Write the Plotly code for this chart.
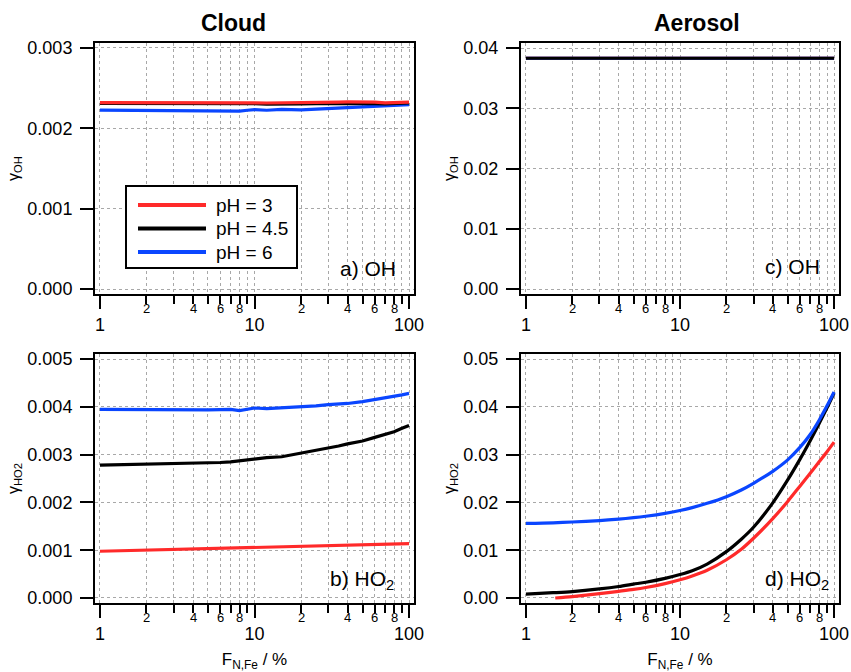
import math
import plotly.graph_objects as go

# ---------------- data ----------------
X_CLOUD = [1, 1.5, 2, 3, 4, 5, 6, 7, 8, 9, 10, 12, 15, 20, 25, 30, 35, 40, 50, 60, 70, 80, 90, 100]

# a) cloud, OH uptake
oh_cloud_ph3 = [0.002320, 0.002320, 0.002320, 0.002318, 0.002318, 0.002318, 0.002320, 0.002325, 0.002322, 0.002322,
                0.002318, 0.002315, 0.002316, 0.002318, 0.002316, 0.002318, 0.002326, 0.002328, 0.002328, 0.002327,
                0.002318, 0.002320, 0.002318, 0.002326]
oh_cloud_ph45 = [0.002310, 0.002310, 0.002310, 0.002310, 0.002310, 0.002310, 0.002312, 0.002312, 0.002308, 0.002310,
                 0.002308, 0.002302, 0.002300, 0.002305, 0.002308, 0.002310, 0.002312, 0.002312, 0.002310, 0.002308,
                 0.002305, 0.002310, 0.002312, 0.002315]
oh_cloud_ph6 = [0.002226, 0.002224, 0.002222, 0.002222, 0.002220, 0.002220, 0.002225, 0.002222, 0.002215, 0.002225,
                0.002232, 0.002225, 0.002235, 0.002230, 0.002240, 0.002246, 0.002250, 0.002256, 0.002262, 0.002272,
                0.002278, 0.002286, 0.002290, 0.002296]

# b) cloud, HO2 uptake
ho2_cloud_ph3 = [0.000978, 0.000992, 0.001003, 0.001018, 0.001028, 0.001036, 0.001045, 0.001052, 0.001058, 0.001063,
                 0.001068, 0.001076, 0.001085, 0.001096, 0.001104, 0.001110, 0.001115, 0.001120, 0.001126, 0.001130,
                 0.001132, 0.001134, 0.001135, 0.001136]
ho2_cloud_ph45 = [0.002780, 0.002790, 0.002798, 0.002808, 0.002815, 0.002825, 0.002835, 0.002848, 0.002872, 0.002885,
                  0.002910, 0.002935, 0.002955, 0.003030, 0.003085, 0.003130, 0.003180, 0.003225, 0.003285, 0.003360,
                  0.003420, 0.003480, 0.003550, 0.003610]
ho2_cloud_ph6 = [0.003947, 0.003940, 0.003935, 0.003932, 0.003932, 0.003935, 0.003942, 0.003948, 0.003920, 0.003955,
                 0.003975, 0.003960, 0.003975, 0.004010, 0.004020, 0.004045, 0.004055, 0.004070, 0.004110, 0.004150,
                 0.004185, 0.004220, 0.004250, 0.004280]

X_AEROSOL = [1, 1.5, 2, 3, 4, 5, 6, 8, 10, 12, 15, 20, 25, 30, 40, 50, 60, 70, 80, 90, 100]
X_AEROSOL_PH3 = [1.55, 2, 3, 4, 5, 6, 8, 10, 12, 15, 20, 25, 30, 40, 50, 60, 70, 80, 90, 100]

# c) aerosol, OH uptake
oh_aer_ph3 = [0.0383] * len(X_AEROSOL)
oh_aer_ph45 = [0.0383] * len(X_AEROSOL)
oh_aer_ph6 = [0.0383] * len(X_AEROSOL)

# d) aerosol, HO2 uptake
ho2_aer_ph3 = [0.0000, 0.0003, 0.0009, 0.0014, 0.0018, 0.0022, 0.0030, 0.0038, 0.0046, 0.0058, 0.0080,
               0.0102, 0.0125, 0.0166, 0.0202, 0.0234, 0.0261, 0.0285, 0.0306, 0.0326]
ho2_aer_ph45 = [0.0008, 0.0011, 0.00135, 0.0019, 0.0024, 0.0029, 0.0033, 0.0041, 0.0049, 0.0057, 0.0071, 0.0097,
                0.0123, 0.0148, 0.0199, 0.0247, 0.0290, 0.0329, 0.0365, 0.0398, 0.0429]
ho2_aer_ph6 = [0.0156, 0.01573, 0.0159, 0.0162, 0.0165, 0.0168, 0.0171, 0.0177, 0.0183, 0.0189, 0.0198, 0.0212,
               0.0226, 0.0240, 0.0265, 0.0289, 0.0315, 0.0342, 0.0372, 0.0402, 0.0431]

SERIES = ["pH = 3", "pH = 4.5", "pH = 6"]
COLORS = {"pH = 3": "#ff2a2a", "pH = 4.5": "#000000", "pH = 6": "#0a46ff"}

X_MAJOR = [1, 10, 100]
X_MINOR = [2, 3, 4, 5, 6, 7, 8, 9, 20, 30, 40, 50, 60, 70, 80, 90]
X_MINOR_LABELED = [2, 4, 6, 8, 20, 40, 60, 80]

FONT = "Liberation Sans, Arial, sans-serif"

fig = go.Figure()

def add(x, y, name, xa, ya, shape="linear"):
    fig.add_trace(go.Scatter(
        x=x, y=y, mode="lines", name=name, legendgroup=name, showlegend=False,
        line=dict(color=COLORS[name], width=3.2, shape=shape, smoothing=0.8),
        xaxis=xa, yaxis=ya))

# a)
add(X_CLOUD, oh_cloud_ph6, "pH = 6", "x", "y")
add(X_CLOUD, oh_cloud_ph45, "pH = 4.5", "x", "y")
add(X_CLOUD, oh_cloud_ph3, "pH = 3", "x", "y")
# c)
add(X_AEROSOL, oh_aer_ph3, "pH = 3", "x2", "y2")
add(X_AEROSOL, oh_aer_ph6, "pH = 6", "x2", "y2")
add(X_AEROSOL, oh_aer_ph45, "pH = 4.5", "x2", "y2")
# b)
add(X_CLOUD, ho2_cloud_ph3, "pH = 3", "x3", "y3")
add(X_CLOUD, ho2_cloud_ph45, "pH = 4.5", "x3", "y3")
add(X_CLOUD, ho2_cloud_ph6, "pH = 6", "x3", "y3")
# d)
add(X_AEROSOL_PH3, ho2_aer_ph3, "pH = 3", "x4", "y4", shape="spline")
add(X_AEROSOL, ho2_aer_ph45, "pH = 4.5", "x4", "y4", shape="spline")
add(X_AEROSOL, ho2_aer_ph6, "pH = 6", "x4", "y4", shape="spline")

W, H = 851, 672
def dx(a, b):
    return [a / W, b / W]
def dy(top, bottom):
    return [1 - bottom / H, 1 - top / H]

GRID = "#a8a8a8"

def xaxis(domain, anchor, title=None):
    d = dict(
        type="log", domain=domain, anchor=anchor, range=[-0.032, 2.032],
        showline=True, linewidth=2, linecolor="black", mirror=True,
        ticks="outside", ticklen=13, tickwidth=2, tickcolor="black",
        tickmode="array", tickvals=X_MAJOR, ticktext=[str(v) for v in X_MAJOR],
        tickfont=dict(size=18, family=FONT, color="black"), ticklabelstandoff=0,
        showgrid=True, gridcolor=GRID, griddash="dot", gridwidth=1,
        minor=dict(tickmode="array", tickvals=X_MINOR, ticks="outside", ticklen=8,
                   tickwidth=2, tickcolor="black", showgrid=True, gridcolor=GRID,
                   griddash="dot", gridwidth=1),
        zeroline=False, automargin=False,
    )
    if title:
        d["title"] = dict(text=title, font=dict(size=17, family=FONT, color="black"), standoff=15)
    return d

def yaxis(domain, anchor, rng, dtick, fmt, title):
    return dict(
        domain=domain, anchor=anchor, range=rng,
        showline=True, linewidth=2, linecolor="black", mirror=True,
        ticks="outside", ticklen=13, tickwidth=2, tickcolor="black",
        tick0=0, dtick=dtick, tickformat=fmt,
        tickfont=dict(size=18, family=FONT, color="black"), ticklabelstandoff=4,
        showgrid=True, gridcolor=GRID, griddash="dot", gridwidth=1,
        zeroline=False, automargin=False,
        title=dict(text=title, font=dict(size=16, family=FONT, color="black"), standoff=4),
    )

LX = dx(95, 414)
RX = dx(521, 839)
TY = dy(43, 294)
BY = dy(354, 603)

fig.update_layout(
    template="none",
    width=W, height=H,
    margin=dict(l=0, r=0, t=0, b=0),
    paper_bgcolor="white", plot_bgcolor="white",
    font=dict(family=FONT, color="black"),
    xaxis=xaxis(LX, "y"),
    yaxis=yaxis(TY, "x", [-0.000062, 0.003062], 0.001, ".3f", "γ<sub>OH</sub>"),
    xaxis2=xaxis(RX, "y2"),
    yaxis2=yaxis(TY, "x2", [-0.00083, 0.04083], 0.01, ".2f", "γ<sub>OH</sub>"),
    xaxis3=xaxis(LX, "y3", "F<sub>N,Fe</sub> / %"),
    yaxis3=yaxis(BY, "x3", [-0.000105, 0.005105], 0.001, ".3f", "γ<sub>HO2</sub>"),
    xaxis4=xaxis(RX, "y4", "F<sub>N,Fe</sub> / %"),
    yaxis4=yaxis(BY, "x4", [-0.00105, 0.05105], 0.01, ".2f", "γ<sub>HO2</sub>"),
    showlegend=False,
)

ann = []
shapes = []
# column titles
ann.append(dict(text="<b>Cloud</b>", x=233 / W, y=1 - 23 / H, xref="paper", yref="paper",
                xanchor="center", yanchor="middle",
                showarrow=False, font=dict(size=23, family=FONT, color="black")))
ann.append(dict(text="<b>Aerosol</b>", x=697 / W, y=1 - 23 / H, xref="paper", yref="paper",
                xanchor="center", yanchor="middle",
                showarrow=False, font=dict(size=23, family=FONT, color="black")))
# panel labels
panel_labels = [("a) OH", "x", "y", -16, 12), ("c) OH", "x2", "y2", -17, 14),
                ("b) HO<sub>2</sub>", "x3", "y3", -18, 8), ("d) HO<sub>2</sub>", "x4", "y4", -8, 8)]
for text, xa, ya, xs, ys in panel_labels:
    ann.append(dict(text=text, x=1, y=0, xref=xa + " domain", yref=ya + " domain",
                    xanchor="right", yanchor="bottom", xshift=xs, yshift=ys, showarrow=False,
                    font=dict(size=21, family=FONT, color="black")))
# small minor-tick labels
for xa, ya in [("x", "y"), ("x2", "y2"), ("x3", "y3"), ("x4", "y4")]:
    for v in X_MINOR_LABELED:
        ann.append(dict(text=str(v)[0], x=math.log10(v), y=0, xref=xa, yref=ya + " domain",
                        xanchor="center", yanchor="top", yshift=-5, showarrow=False,
                        font=dict(size=13, family=FONT, color="black")))

# legend box (drawn inside panel a)
LEG_L, LEG_R, LEG_T, LEG_B = 126, 297, 186, 268
shapes.append(dict(type="rect", xref="paper", yref="paper",
                   x0=LEG_L / W, x1=LEG_R / W, y0=1 - LEG_B / H, y1=1 - LEG_T / H,
                   line=dict(color="black", width=2), fillcolor="white", layer="above"))
for i, name in enumerate(SERIES):
    yy = 205 + i * 23.5
    shapes.append(dict(type="line", xref="paper", yref="paper",
                       x0=138 / W, x1=206 / W, y0=1 - yy / H, y1=1 - yy / H,
                       line=dict(color=COLORS[name], width=4), layer="above"))
    ann.append(dict(text=name, x=214 / W, y=1 - yy / H, xref="paper", yref="paper",
                    xanchor="left", yanchor="middle", showarrow=False,
                    font=dict(size=19, family=FONT, color="black")))

fig.update_layout(annotations=ann, shapes=shapes)

fig.write_html("out.html", config={"displayModeBar": False},
               post_script="document.body.style.margin='0px';")
